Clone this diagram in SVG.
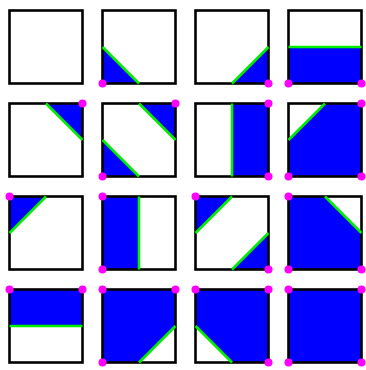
<svg xmlns="http://www.w3.org/2000/svg" width="366" height="370" viewBox="0 0 366 370">
<style>
.f{fill:#0000ff;stroke:none}
.b{fill:none;stroke:#000;stroke-width:2.6}
.g{fill:none;stroke:#00ee00;stroke-width:2.6;stroke-linecap:butt}
.d{fill:#ff00ff}
</style>
<rect width="366" height="370" fill="#fff"/>
<g id="cell0" transform="translate(9.5,10.5)">
<rect class="b" width="73" height="73"/>
</g>
<g id="cell1" transform="translate(102.5,10.5)">
<polygon class="f" points="0,36.5 0,73 36.5,73"/>
<rect class="b" width="73" height="73"/>
<line class="g" x1="0" y1="36.5" x2="36.5" y2="73"/>
<circle class="d" cx="0" cy="73" r="4"/>
</g>
<g id="cell2" transform="translate(195.5,10.5)">
<polygon class="f" points="36.5,73 73,73 73,36.5"/>
<rect class="b" width="73" height="73"/>
<line class="g" x1="36.5" y1="73" x2="73" y2="36.5"/>
<circle class="d" cx="73" cy="73" r="4"/>
</g>
<g id="cell3" transform="translate(288.5,10.5)">
<polygon class="f" points="0,36.5 73,36.5 73,73 0,73"/>
<rect class="b" width="73" height="73"/>
<line class="g" x1="0" y1="36.5" x2="73" y2="36.5"/>
<circle class="d" cx="0" cy="73" r="4"/>
<circle class="d" cx="73" cy="73" r="4"/>
</g>
<g id="cell4" transform="translate(9.5,103.5)">
<polygon class="f" points="36.5,0 73,0 73,36.5"/>
<rect class="b" width="73" height="73"/>
<line class="g" x1="36.5" y1="0" x2="73" y2="36.5"/>
<circle class="d" cx="73" cy="0" r="4"/>
</g>
<g id="cell5" transform="translate(102.5,103.5)">
<polygon class="f" points="36.5,0 73,0 73,36.5"/>
<polygon class="f" points="0,36.5 0,73 36.5,73"/>
<rect class="b" width="73" height="73"/>
<line class="g" x1="36.5" y1="0" x2="73" y2="36.5"/>
<line class="g" x1="0" y1="36.5" x2="36.5" y2="73"/>
<circle class="d" cx="73" cy="0" r="4"/>
<circle class="d" cx="0" cy="73" r="4"/>
</g>
<g id="cell6" transform="translate(195.5,103.5)">
<polygon class="f" points="36.5,0 73,0 73,73 36.5,73"/>
<rect class="b" width="73" height="73"/>
<line class="g" x1="36.5" y1="0" x2="36.5" y2="73"/>
<circle class="d" cx="73" cy="0" r="4"/>
<circle class="d" cx="73" cy="73" r="4"/>
</g>
<g id="cell7" transform="translate(288.5,103.5)">
<polygon class="f" points="36.5,0 73,0 73,73 0,73 0,36.5"/>
<rect class="b" width="73" height="73"/>
<line class="g" x1="0" y1="36.5" x2="36.5" y2="0"/>
<circle class="d" cx="73" cy="0" r="4"/>
<circle class="d" cx="73" cy="73" r="4"/>
<circle class="d" cx="0" cy="73" r="4"/>
</g>
<g id="cell8" transform="translate(9.5,196.5)">
<polygon class="f" points="0,0 36.5,0 0,36.5"/>
<rect class="b" width="73" height="73"/>
<line class="g" x1="36.5" y1="0" x2="0" y2="36.5"/>
<circle class="d" cx="0" cy="0" r="4"/>
</g>
<g id="cell9" transform="translate(102.5,196.5)">
<polygon class="f" points="0,0 36.5,0 36.5,73 0,73"/>
<rect class="b" width="73" height="73"/>
<line class="g" x1="36.5" y1="0" x2="36.5" y2="73"/>
<circle class="d" cx="0" cy="0" r="4"/>
<circle class="d" cx="0" cy="73" r="4"/>
</g>
<g id="cell10" transform="translate(195.5,196.5)">
<polygon class="f" points="0,0 36.5,0 0,36.5"/>
<polygon class="f" points="36.5,73 73,73 73,36.5"/>
<rect class="b" width="73" height="73"/>
<line class="g" x1="36.5" y1="0" x2="0" y2="36.5"/>
<line class="g" x1="36.5" y1="73" x2="73" y2="36.5"/>
<circle class="d" cx="0" cy="0" r="4"/>
<circle class="d" cx="73" cy="73" r="4"/>
</g>
<g id="cell11" transform="translate(288.5,196.5)">
<polygon class="f" points="0,0 36.5,0 73,36.5 73,73 0,73"/>
<rect class="b" width="73" height="73"/>
<line class="g" x1="36.5" y1="0" x2="73" y2="36.5"/>
<circle class="d" cx="0" cy="0" r="4"/>
<circle class="d" cx="73" cy="73" r="4"/>
<circle class="d" cx="0" cy="73" r="4"/>
</g>
<g id="cell12" transform="translate(9.5,289.5)">
<polygon class="f" points="0,0 73,0 73,36.5 0,36.5"/>
<rect class="b" width="73" height="73"/>
<line class="g" x1="0" y1="36.5" x2="73" y2="36.5"/>
<circle class="d" cx="0" cy="0" r="4"/>
<circle class="d" cx="73" cy="0" r="4"/>
</g>
<g id="cell13" transform="translate(102.5,289.5)">
<polygon class="f" points="0,0 73,0 73,36.5 36.5,73 0,73"/>
<rect class="b" width="73" height="73"/>
<line class="g" x1="73" y1="36.5" x2="36.5" y2="73"/>
<circle class="d" cx="0" cy="0" r="4"/>
<circle class="d" cx="73" cy="0" r="4"/>
<circle class="d" cx="0" cy="73" r="4"/>
</g>
<g id="cell14" transform="translate(195.5,289.5)">
<polygon class="f" points="0,0 73,0 73,73 36.5,73 0,36.5"/>
<rect class="b" width="73" height="73"/>
<line class="g" x1="0" y1="36.5" x2="36.5" y2="73"/>
<circle class="d" cx="0" cy="0" r="4"/>
<circle class="d" cx="73" cy="0" r="4"/>
<circle class="d" cx="73" cy="73" r="4"/>
</g>
<g id="cell15" transform="translate(288.5,289.5)">
<rect class="f" width="73" height="73"/>
<rect class="b" width="73" height="73"/>
<circle class="d" cx="0" cy="0" r="4"/>
<circle class="d" cx="73" cy="0" r="4"/>
<circle class="d" cx="73" cy="73" r="4"/>
<circle class="d" cx="0" cy="73" r="4"/>
</g>
<g id="connectors"/>
</svg>
